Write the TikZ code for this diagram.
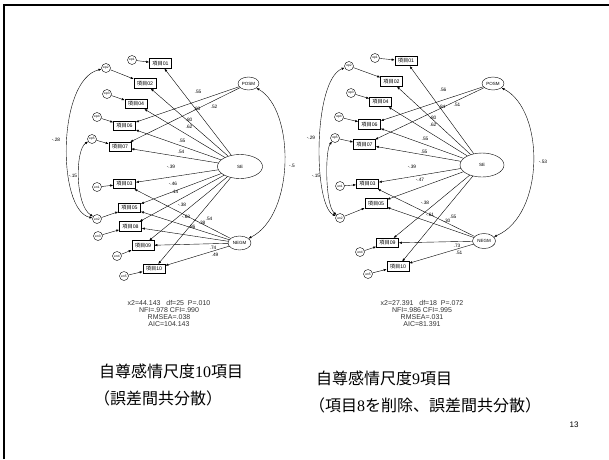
\documentclass[tikz,border=0pt]{standalone}
\usepackage{fontspec}
\setmainfont{Liberation Sans}
\newfontfamily\cjk{Noto Sans CJK JP}
\newfontfamily\serifdig{Liberation Serif}
\usetikzlibrary{arrows.meta,shapes.geometric}
\newcommand\koumoku[1]{{\cjk 項目}#1}
\begin{document}
\begin{tikzpicture}[x=1pt,y=-1pt,
 item/.style={draw,line width=0.6pt,minimum width=22pt,minimum height=9.5pt,inner sep=0pt,font=\fontsize{5.2}{5.2}\selectfont},
 err/.style={draw,circle,line width=0.4pt,minimum size=9pt,inner sep=0pt,font=\fontsize{3.3}{3.3}\selectfont},
 lat/.style={draw,ellipse,line width=0.4pt,inner sep=0pt,font=\fontsize{4.5}{4.5}\selectfont},
 arr/.style={line width=0.4pt,-{Latex[length=3pt,width=2.4pt]}},
 cov/.style={line width=0.4pt,{Latex[length=3pt,width=2.4pt]}-{Latex[length=3pt,width=2.4pt]}},
 coef/.style={font=\fontsize{4.8}{4.8}\selectfont,inner sep=0pt},
 stat/.style={font=\fontsize{7}{6.8}\selectfont,align=center,inner sep=0pt,text=black!80},
 capt/.style={font=\fontsize{16}{16}\selectfont,inner sep=0pt,anchor=west}
]
\useasboundingbox (0,0) rectangle (609,459);
\fill[white] (0,0) rectangle (609,459);
\draw[line width=2pt] (4,459) -- (4,5) -- (609,5);

% ---------------- left diagram ----------------
\node[item] (L01) at (160.5,63.5) {\koumoku{01}};
\node[item] (L02) at (145,83.5) {\koumoku{02}};
\node[item] (L04) at (136,104) {\koumoku{04}};
\node[item] (L06) at (124.5,126) {\koumoku{06}};
\node[item] (L07) at (120,147) {\koumoku{07}};
\node[item] (L03) at (124.5,184) {\koumoku{03}};
\node[item] (L05) at (129.5,208) {\koumoku{05}};
\node[item] (L08) at (130.5,226.5) {\koumoku{08}};
\node[item] (L09) at (143,245.5) {\koumoku{09}};
\node[item] (L10) at (154,269) {\koumoku{10}};
\node[err] (Lep1) at (132,60) {ep1};
\node[err] (Lep2) at (106,68) {ep2};
\node[err] (Lep3) at (107,94) {ep3};
\node[err] (Lep4) at (97,117) {ep4};
\node[err] (Lep5) at (92,139) {ep5};
\node[err] (Len1) at (97,187) {en1};
\node[err] (Len2) at (97,219) {en2};
\node[err] (Len3) at (98,236) {en3};
\node[err] (Len4) at (117,256) {en4};
\node[err] (Len5) at (124,276) {en5};
\node[lat,minimum width=21pt,minimum height=13pt] (LPOSM) at (248.5,83.5) {POSM};
\node[lat,minimum width=45pt,minimum height=24pt] (LSE) at (240,166.5) {SE};
\node[lat,minimum width=23pt,minimum height=14pt] (LNEGM) at (239.5,243) {NEGM};

\foreach \e/\b in {Lep1/L01,Lep2/L02,Lep3/L04,Lep4/L06,Lep5/L07,Len1/L03,Len2/L05,Len3/L08,Len4/L09,Len5/L10}
  \draw[arr] (\e) -- (\b);
\foreach \b in {L01,L02,L04,L06,L07,L03,L05,L08,L09,L10}
  \draw[arr] (LSE) -- (\b);
\foreach \b in {L06,L07}
  \draw[arr] (LPOSM) -- (\b);
\foreach \b in {L03,L05,L08,L09,L10}
  \draw[arr] (LNEGM) -- (\b);
\draw[cov] (Lep2) .. controls (57,80) and (57,210) .. (Len2);
\draw[cov] (Lep5) .. controls (75,150) and (75,205) .. (Len2);
\draw[cov] (LPOSM) .. controls (295,110) and (295,215) .. (LNEGM);

\foreach \p/\t in {{198,92}/.55,{214,107}/.52,{197,109}/.83,{189,120}/.80,{189,127}/.62,{182,141}/.55,{181,152}/.54,
  {171,167}/-.39,{173,184}/-.46,{175,192}/.14,{182,205}/-.38,{186,217}/-.63,{202,223}/.38,{209,219}/.54,{192,227}/.86,
  {213,248}/.74,{215,255}/.49,{56,140}/-.28,{73,176}/-.15,{292,166}/-.5}
  \node[coef] at (\p) {\t};

\node[stat] (Lstat) at (169,313.5) {x2=44.143\ \ \ df=25\ \ P=.010\\NFI=.978 CFI=.990\\RMSEA=.038\\AIC=104.143};

% ---------------- right diagram ----------------
\node[item] (R01) at (406,61) {\koumoku{01}};
\node[item] (R02) at (391.5,81.5) {\koumoku{02}};
\node[item] (R04) at (380.5,102) {\koumoku{04}};
\node[item] (R06) at (369.5,124.5) {\koumoku{06}};
\node[item] (R07) at (364.5,144.5) {\koumoku{07}};
\node[item] (R03) at (367.5,184) {\koumoku{03}};
\node[item] (R05) at (376,203.5) {\koumoku{05}};
\node[item] (R09) at (387.5,243) {\koumoku{09}};
\node[item] (R10) at (398,266.5) {\koumoku{10}};
\node[err] (Rep1) at (375,58) {ep1};
\node[err] (Rep2) at (349,66) {ep2};
\node[err] (Rep3) at (351,93) {ep3};
\node[err] (Rep4) at (339,117) {ep4};
\node[err] (Rep5) at (335,138) {ep5};
\node[err] (Ren1) at (340,186) {en1};
\node[err] (Ren2) at (340,218) {en2};
\node[err] (Ren4) at (360,252) {en4};
\node[err] (Ren5) at (368,274) {en5};
\node[lat,minimum width=22pt,minimum height=13pt] (RPOSM) at (493,83.5) {POSM};
\node[lat,minimum width=44pt,minimum height=24pt] (RSE) at (482,165) {SE};
\node[lat,minimum width=23pt,minimum height=15pt] (RNEGM) at (484,241) {NEGM};

\foreach \e/\b in {Rep1/R01,Rep2/R02,Rep3/R04,Rep4/R06,Rep5/R07,Ren1/R03,Ren2/R05,Ren4/R09,Ren5/R10}
  \draw[arr] (\e) -- (\b);
\foreach \b in {R01,R02,R04,R06,R07,R03,R05,R09,R10}
  \draw[arr] (RSE) -- (\b);
\foreach \b in {R06,R07}
  \draw[arr] (RPOSM) -- (\b);
\foreach \b in {R03,R05,R09,R10}
  \draw[arr] (RNEGM) -- (\b);
\draw[cov] (Rep2) .. controls (313,80) and (313,205) .. (Ren2);
\draw[cov] (Rep5) .. controls (325,150) and (325,205) .. (Ren2);
\draw[cov] (RPOSM) .. controls (545,110) and (545,215) .. (RNEGM);

\foreach \p/\t in {{443,90}/.56,{457,105}/.51,{442,107}/.84,{433,118}/.80,{433,125}/.62,{425,139}/.55,{424,152}/.55,
  {412,167}/-.39,{420,180}/-.47,{425,203}/-.38,{430,215}/-.61,{447,221}/.30,{453,217}/.55,
  {457,246}/.73,{459,253}/.51,{311,138}/-.29,{316,176}/-.15,{543,162}/-.53}
  \node[coef] at (\p) {\t};

\node[stat] (Rstat) at (422,313.5) {x2=27.391\ \ \ df=18\ \ P=.072\\NFI=.986 CFI=.995\\RMSEA=.031\\AIC=81.391};

% ---------------- captions ----------------
\node[capt] (Lcap1) at (99,371) {\cjk 自尊感情尺度{\serifdig 10}項目};
\node[capt] (Lcap2) at (94,398) {\cjk （誤差間共分散）};
\node[capt] (Rcap1) at (316,378) {\cjk 自尊感情尺度{\serifdig 9}項目};
\node[capt] (Rcap2) at (309,405) {\cjk （項目{\serifdig 8}を削除、誤差間共分散）};
\node[font=\fontsize{8}{8}\selectfont,inner sep=0pt] (pnum) at (574,425) {13};
\end{tikzpicture}
\end{document}
